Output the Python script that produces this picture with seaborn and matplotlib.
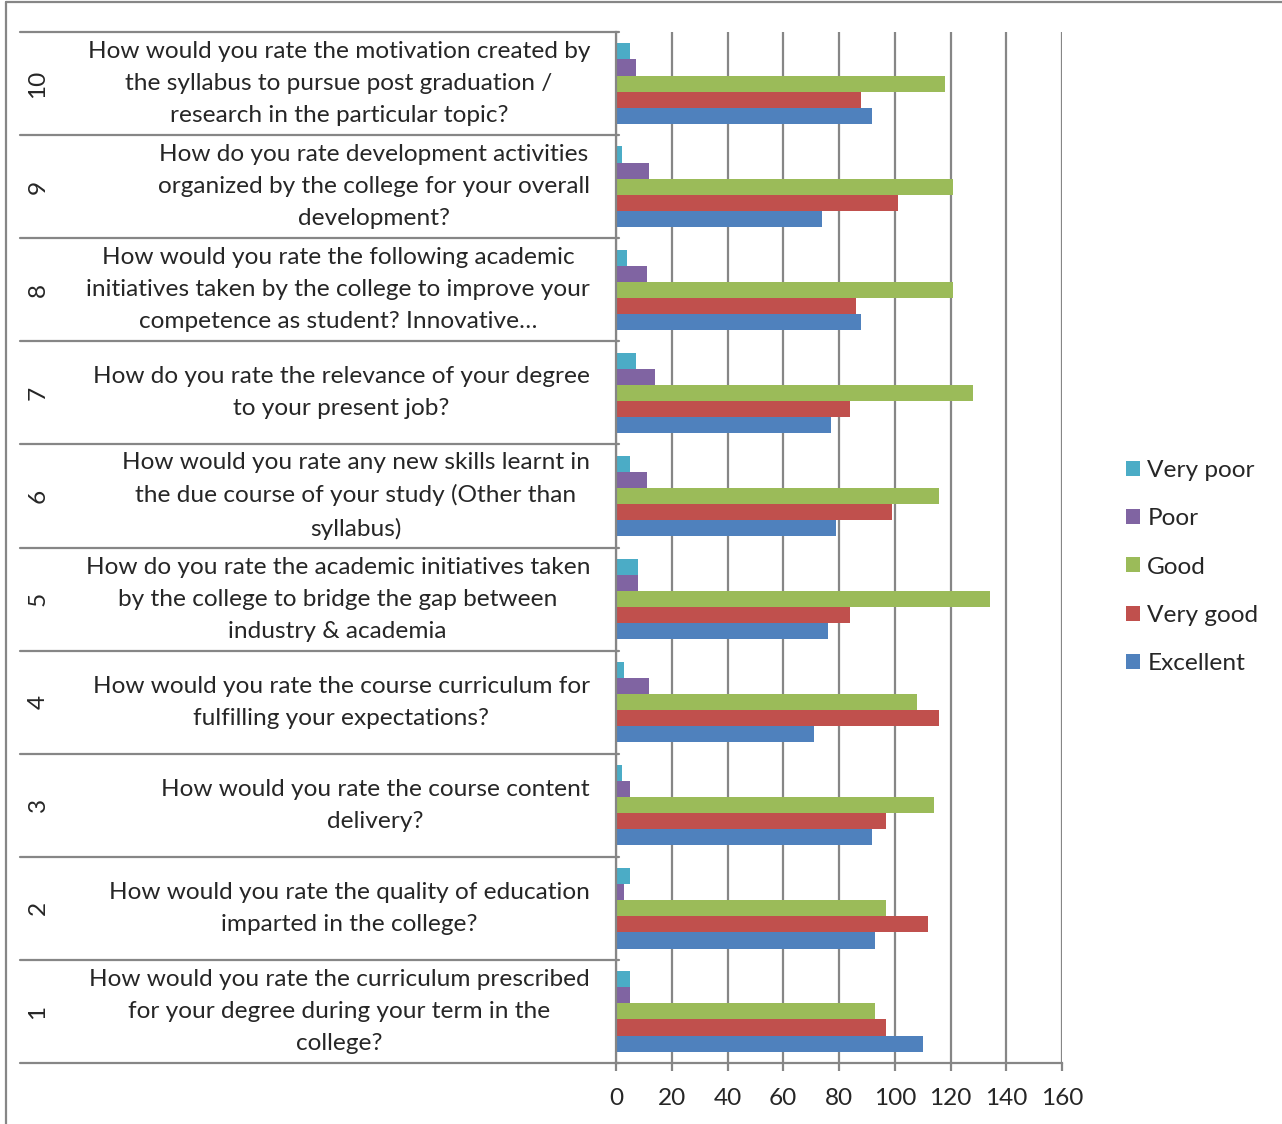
import matplotlib
matplotlib.use("Agg")
import matplotlib.pyplot as plt
import matplotlib.transforms as mtransforms
from matplotlib.lines import Line2D
import seaborn as sns
import pandas as pd

# ---- data ----
question_ids = ["10", "9", "8", "7", "6", "5", "4", "3", "2", "1"]
question_texts = [
    "How would you rate the motivation created by\nthe syllabus to pursue post graduation /\nresearch in the particular topic?",
    "How do you rate development activities\norganized by the college for your overall\ndevelopment?",
    "How would you rate the following academic\ninitiatives taken by the college to improve your\ncompetence as student? Innovative…",
    "How do you rate the relevance of your degree\nto your present job?",
    "How would you rate any new skills learnt in\nthe due course of your study (Other than\nsyllabus)",
    "How do you rate the academic initiatives taken\nby the college to bridge the gap between\nindustry & academia",
    "How would you rate the course curriculum for\nfulfilling your expectations?",
    "How would you rate the course content\ndelivery?",
    "How would you rate the quality of education\nimparted in the college?",
    "How would you rate the curriculum prescribed\nfor your degree during your term in the\ncollege?",
]
ratings = ["Very poor", "Poor", "Good", "Very good", "Excellent"]
very_poor = [5, 2, 4, 7, 5, 8, 3, 2, 5, 5]
poor      = [7, 12, 11, 14, 11, 8, 12, 5, 3, 5]
good      = [118, 121, 121, 128, 116, 134, 108, 114, 97, 93]
very_good = [88, 101, 86, 84, 99, 84, 116, 97, 112, 97]
excellent = [92, 74, 88, 77, 79, 76, 71, 92, 93, 110]
x_ticks = [0, 20, 40, 60, 80, 100, 120, 140, 160]

colors = ["#4BACC6", "#8064A2", "#9BBB59", "#C0504D", "#4F81BD"]

series = [very_poor, poor, good, very_good, excellent]
rows = []
for r, vals in zip(ratings, series):
    for q, v in zip(question_ids, vals):
        rows.append({"question": q, "rating": r, "value": v})
df = pd.DataFrame(rows)

# ---- style ----
sns.set_style("white")
plt.rcParams["font.family"] = ["Lato", "DejaVu Sans"]
FS = 17.6
GRID = "#868686"

W, H = 1282, 1124
fig = plt.figure(figsize=(W / 100, H / 100), dpi=100)
ax_l, ax_r, ax_t, ax_b = 616, 1062, 32, 1063
ax = fig.add_axes([ax_l / W, 1 - ax_b / H, (ax_r - ax_l) / W, (ax_b - ax_t) / H])

sns.barplot(data=df, y="question", x="value", hue="rating", order=question_ids,
            hue_order=ratings, palette=colors, orient="h", width=0.78,
            dodge=True, gap=0, saturation=1, ax=ax, legend=True,
            edgecolor="none")

ax.set_xlim(0, 160)
ax.set_ylim(len(question_ids) - 0.5, -0.5)
ax.set_xticks(x_ticks)
ax.set_xticklabels([str(t) for t in x_ticks], fontsize=FS)
ax.set_xlabel("")
ax.set_ylabel("")
ax.set_yticks([])
ax.grid(axis="x", color=GRID, linewidth=1.6)
ax.set_axisbelow(True)
for s in ["top", "right"]:
    ax.spines[s].set_visible(False)
for s in ["left", "bottom"]:
    ax.spines[s].set_color(GRID)
    ax.spines[s].set_linewidth(1.6)
ax.tick_params(axis="x", direction="out", length=6, width=1.6, color=GRID, pad=12,
               bottom=True)

# multi-level category labels
trans = mtransforms.blended_transform_factory(fig.transFigure, ax.transData)
for i in range(len(question_ids) + 1):
    ax.add_line(Line2D([20 / W, ax_l / W + 0.002], [i - 0.5, i - 0.5], transform=trans,
                       color=GRID, linewidth=1.6, clip_on=False))
for i, (qid, qt) in enumerate(zip(question_ids, question_texts)):
    ax.text(38 / W, i, qid, transform=trans, rotation=90, ha="center", va="center",
            fontsize=FS)
    ax.text(590 / W, i, qt, transform=trans, ha="right", va="center",
            multialignment="center", fontsize=FS, linespacing=1.65)

# legend
handles, labels = ax.get_legend_handles_labels()
ax.get_legend().remove()
fig.legend(handles, labels, loc="center left", bbox_to_anchor=(1116 / W, 1 - 567 / H),
           frameon=False, fontsize=FS, handlelength=0.58, handleheight=0.58,
           handletextpad=0.3, labelspacing=1.12, borderaxespad=0)

# outer border (left and top visible)
fig.add_artist(Line2D([6 / W, 6 / W], [0, 1 - 2 / H], transform=fig.transFigure,
                      color=GRID, linewidth=1.6))
fig.add_artist(Line2D([6 / W, 1], [1 - 2 / H, 1 - 2 / H], transform=fig.transFigure,
                      color=GRID, linewidth=1.6))

fig.savefig("out.png", dpi=100)
